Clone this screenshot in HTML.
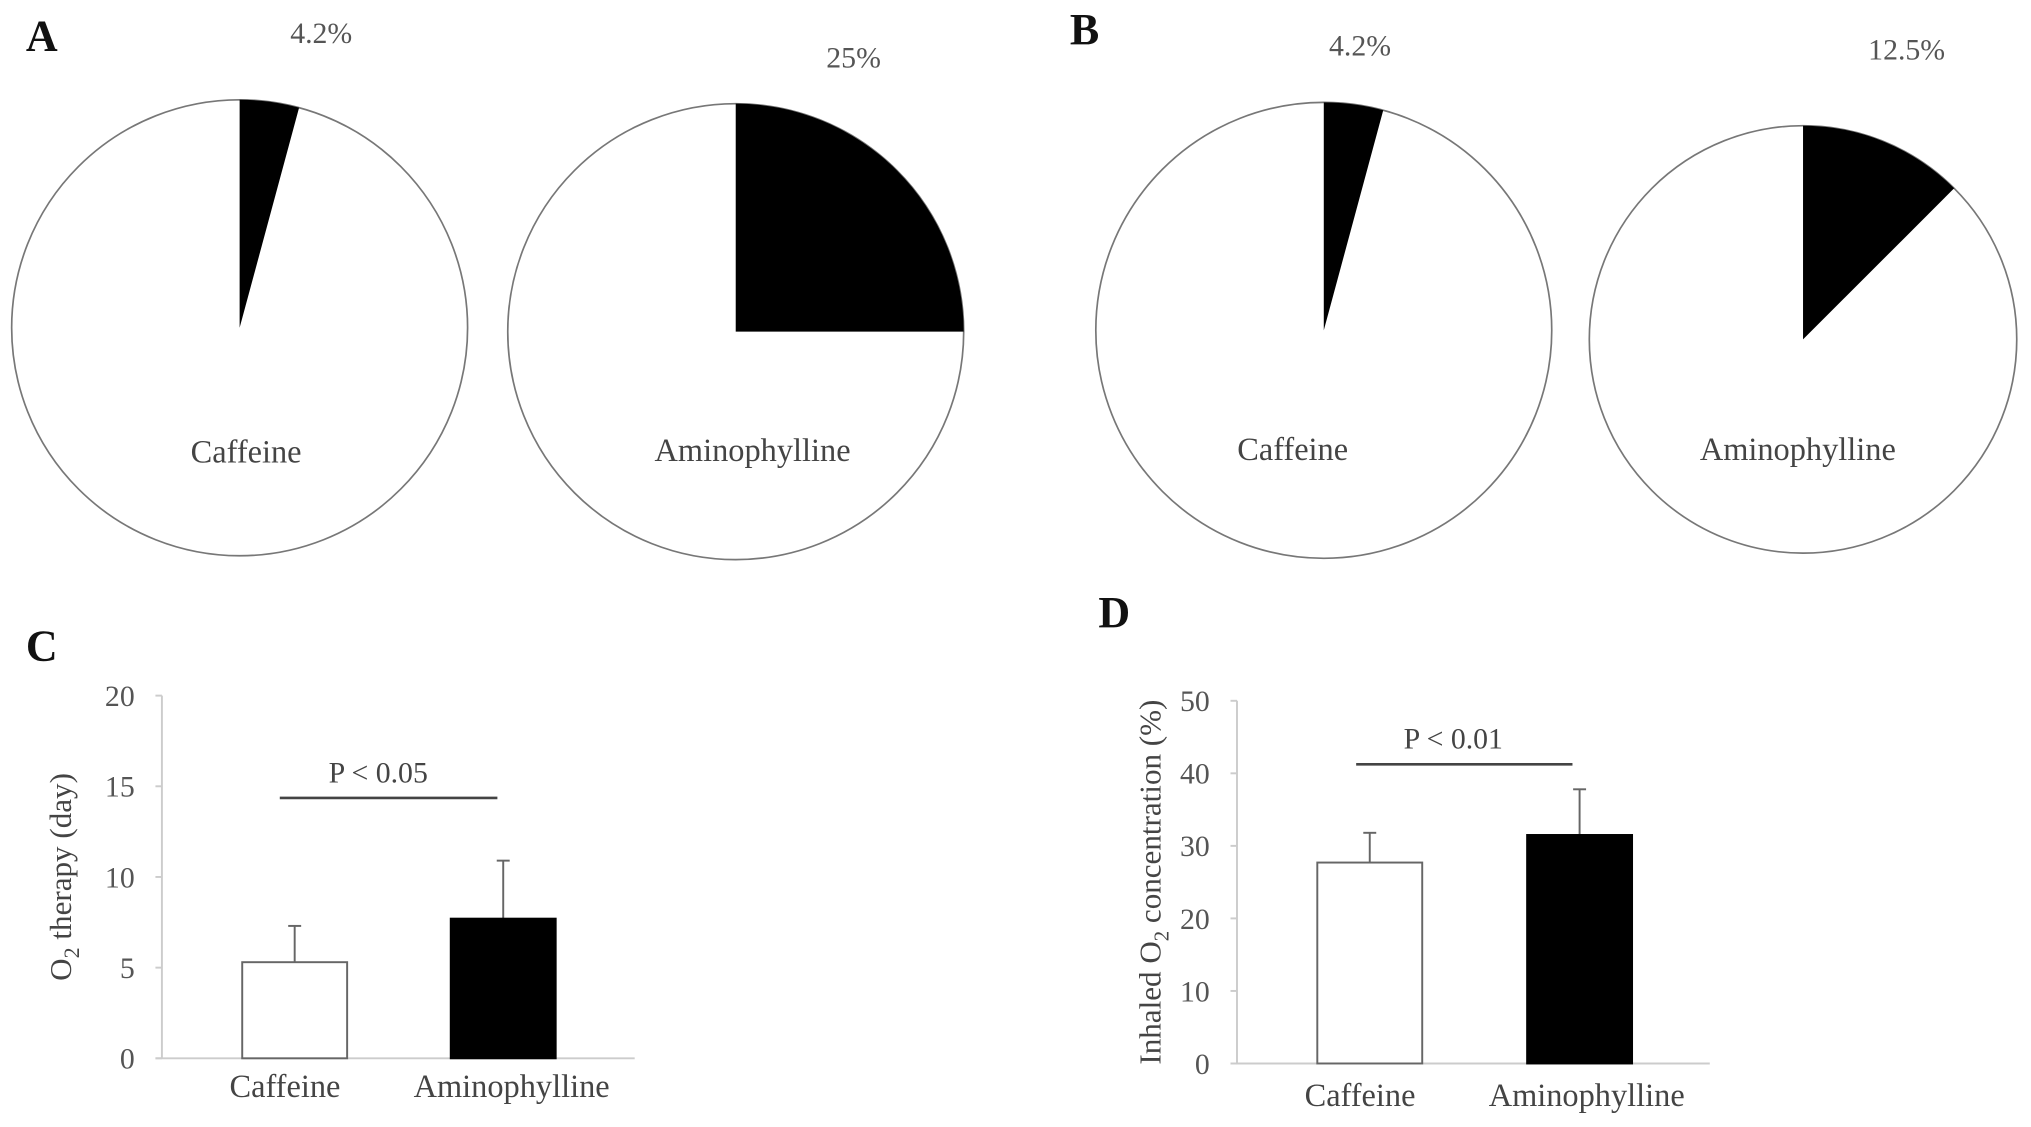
<!DOCTYPE html>
<html><head><meta charset="utf-8"><style>
html,body{margin:0;padding:0;background:#fff;}
svg{display:block;font-family:"Liberation Serif",serif;}
</style></head><body>
<svg id="fig" width="2031" height="1127" viewBox="0 0 1568 870" xmlns="http://www.w3.org/2000/svg">
<rect width="1568" height="870" fill="#fff"/>
<g font-weight="bold" font-size="34" fill="#111">
<text x="20" y="39">A</text>
<text x="826" y="34">B</text>
<text x="20" y="510">C</text>
<text x="848" y="484">D</text>
</g>
<g id="pies"></g>
<g id="bars"></g>
</svg>
<script>
const pieValues = [4.2, 25, 4.2, 12.5];
const pieLabels = ["4.2%", "25%", "4.2%", "12.5%"];
const pieNames = ["Caffeine", "Aminophylline", "Caffeine", "Aminophylline"];
const cCategories = ["Caffeine", "Aminophylline"];
const cMeans = [5.3, 7.7];
const cErrors = [2.0, 3.2];
const cTicks = [0, 5, 10, 15, 20];
const dCategories = ["Caffeine", "Aminophylline"];
const dMeans = [27.7, 31.5];
const dErrors = [4.1, 6.3];
const dTicks = [0, 10, 20, 30, 40, 50];

const NS = "http://www.w3.org/2000/svg";
function mk(tag, attrs, parent, text){
  const e = document.createElementNS(NS, tag);
  for (const k in attrs) e.setAttribute(k, attrs[k]);
  if (text !== undefined) e.textContent = text;
  parent.appendChild(e); return e;
}
const pies = document.getElementById("pies");
const pieGeom = [
  {cx:185, cy:253, r:176, lx:248, ly:33, ny:357},
  {cx:568, cy:256, r:176, lx:659, ly:52, ny:356},
  {cx:1022, cy:255, r:176, lx:1050, ly:43, ny:355},
  {cx:1392, cy:262, r:165, lx:1472, ly:46, ny:355}
];
pieValues.forEach((v, i) => {
  const g = pieGeom[i];
  const c = mk("circle", {cx:g.cx, cy:g.cy, r:g.r, fill:"#fff", stroke:"#777", "stroke-width":1.3}, pies);
  
  
  const a = v / 100 * 2 * Math.PI;
  const x = g.cx + g.r * Math.sin(a), y = g.cy - g.r * Math.cos(a);
  const large = v > 50 ? 1 : 0;
  const p = mk("path", {d:`M${g.cx},${g.cy} L${g.cx},${g.cy-g.r} A${g.r},${g.r} 0 ${large} 1 ${x},${y} Z`, fill:"#000"}, pies);
  
  
  const t = mk("text", {x:g.lx, y:g.ly, "text-anchor":"middle", "font-size":23, fill:"#555"}, pies, pieLabels[i]);
  
  
  const n = mk("text", {x:g.cx + (i===0?5:i===1?13:i===2?-24:-4), y:g.ny, "text-anchor":"middle", "font-size":25, fill:"#444"}, pies, pieNames[i]);
  
  
});

const bars = document.getElementById("bars");
function barChart(o){
  const {axisX, y0, yTop, maxV, ticks, cats, means, errs, barX, barW, xEnd, pLine, pText, title, titleX, labelY, catX, name} = o;
  const ys = v => y0 - (v / maxV) * (y0 - yTop);
  const ax = mk("line", {x1:axisX, y1:yTop, x2:axisX, y2:y0, stroke:"#ccc", "stroke-width":1.5}, bars);
  
  
  const xa = mk("line", {x1:axisX-5, y1:y0, x2:xEnd, y2:y0, stroke:"#ccc", "stroke-width":1.5}, bars);
  
  
  ticks.forEach(t => {
    mk("line", {x1:axisX-5, y1:ys(t), x2:axisX, y2:ys(t), stroke:"#ccc", "stroke-width":1.5}, bars);
    const tl = mk("text", {x:axisX-21, y:ys(t)+8, "text-anchor":"end", "font-size":23, fill:"#555"}, bars, String(t));
    
    
  });
  cats.forEach((c, i) => {
    const top = ys(means[i]);
    const cx = barX[i] + barW/2;
    const el = mk("line", {x1:cx, y1:ys(means[i]+errs[i]), x2:cx, y2:top, stroke:"#666", "stroke-width":1.5}, bars);
    
    
    mk("line", {x1:cx-5, y1:ys(means[i]+errs[i]), x2:cx+5, y2:ys(means[i]+errs[i]), stroke:"#666", "stroke-width":1.5}, bars);
    const r = mk("rect", {x:barX[i], y:top, width:barW, height:y0-top, fill:i===0?"#fff":"#000", stroke:i===0?"#666":"#000", "stroke-width":1.5}, bars);
    
    
    const xl = mk("text", {x:catX[i], y:labelY, "text-anchor":"middle", "font-size":25, fill:"#444"}, bars, c);
    
    
  });
  const pl = mk("line", {x1:pLine[0], y1:pLine[2], x2:pLine[1], y2:pLine[2], stroke:"#444", "stroke-width":2}, bars);
  
  
  const pt = mk("text", {x:pText[0], y:pText[1], "text-anchor":"middle", "font-size":23, fill:"#444"}, bars, pText[2]);
  
  
  const tt = mk("text", {transform:`translate(${titleX},${(y0+yTop)/2}) rotate(-90)`, "text-anchor":"middle", "font-size":24, fill:"#444"}, bars);
  
  
  tt.innerHTML = title;
}
barChart({name:"chart-c", axisX:125, y0:817, yTop:537, maxV:20, ticks:cTicks, cats:cCategories, means:cMeans, errs:cErrors,
  barX:[187,348], barW:81, xEnd:490, pLine:[216,384,616], pText:[292,604,"P < 0.05"],
  title:'O<tspan font-size="17" dy="6">2</tspan><tspan dy="-6"> therapy (day)</tspan>', titleX:55, labelY:847, catX:[220,395]});
barChart({name:"chart-d", axisX:955, y0:821, yTop:541, maxV:50, ticks:dTicks, cats:dCategories, means:dMeans, errs:dErrors,
  barX:[1017,1179], barW:81, xEnd:1320, pLine:[1047,1214,590], pText:[1122,578,"P < 0.01"],
  title:'Inhaled O<tspan font-size="16" dy="6">2</tspan><tspan dy="-6"> concentration (%)</tspan>', titleX:896, labelY:854, catX:[1050,1225]});
</script>
</body></html>
